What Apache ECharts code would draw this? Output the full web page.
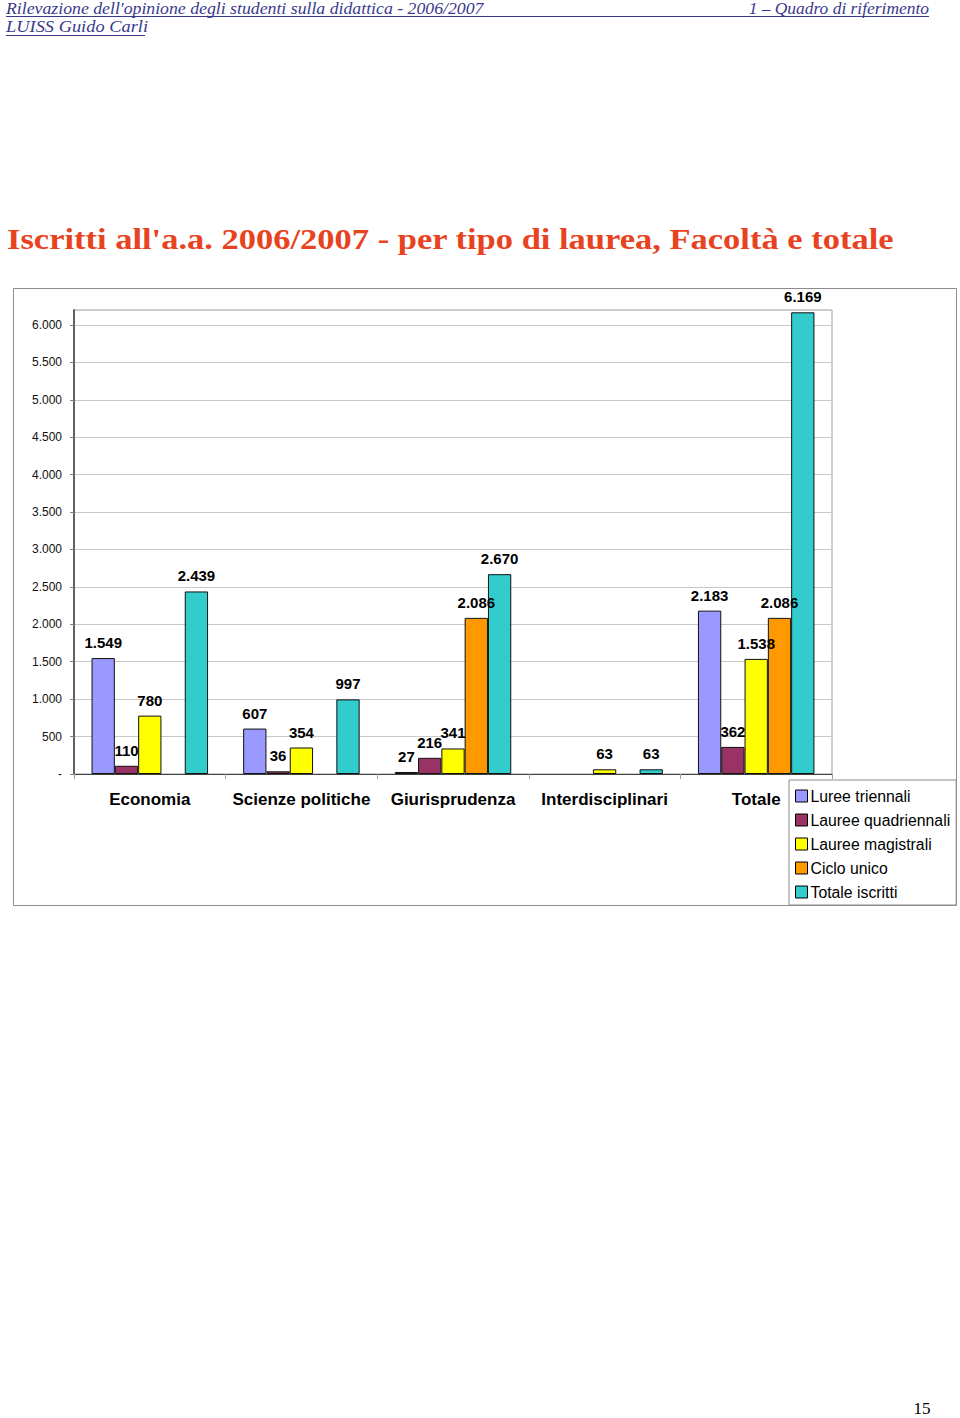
<!DOCTYPE html>
<html><head><meta charset="utf-8">
<script src="https://cdn.jsdelivr.net/npm/echarts@6/dist/echarts.min.js"></script>
<style>html,body{margin:0;padding:0;background:#fff}#c{width:960px;height:1418px}</style>
</head><body><div id="c"></div>
<script>
const categories = ['Economia', 'Scienze politiche', 'Giurisprudenza', 'Interdisciplinari', 'Totale'];
const seriesNames = ['Luree triennali', 'Lauree quadriennali', 'Lauree magistrali', 'Ciclo unico', 'Totale iscritti'];
const lureeTriennali = [1549, 607, 27, null, 2183];
const laureeQuadriennali = [110, 36, 216, null, 362];
const laureeMagistrali = [780, 354, 341, 63, 1538];
const cicloUnico = [null, null, 2086, null, 2086];
const totaleIscritti = [2439, 997, 2670, 63, 6169];
const seriesColors = ['#9999ff', '#993366', '#ffff00', '#ff9900', '#33cccc'];
const yMin = 0, yMax = 6200, yStep = 500;

const headerLeft = "Rilevazione dell'opinione degli studenti sulla didattica - 2006/2007";
const headerRight = '1 \u2013 Quadro di riferimento';
const headerSub = 'LUISS Guido Carli';
const titleText = "Iscritti all'a.a. 2006/2007 - per tipo di laurea, Facolt\u00e0 e totale";
const pageNo = '15';

const fmt = v => (v === 0 ? '-' : String(v).replace(/\B(?=(\d{3})+(?!\d))/g, '.'));
const SANS = '"Liberation Sans", Arial, sans-serif';
const SERIF = '"Liberation Serif", "Times New Roman", serif';
const HEAD = '#3a3a8c';

const allData = [lureeTriennali, laureeQuadriennali, laureeMagistrali, cicloUnico, totaleIscritti];

const chart = echarts.init(document.getElementById('c'), null, { renderer: 'svg' });
chart.setOption({
  backgroundColor: '#fff',
  animation: false,
  graphic: [
    { type: 'rect', z: 0, silent: true, shape: { x: 13.5, y: 288.5, width: 943, height: 617 }, style: { fill: 'none', stroke: '#8c8c8c', lineWidth: 1 } },
    { type: 'text', x: 6, y: 9, scaleX: 1.11, style: { x: 0, y: 0, text: headerLeft, fill: HEAD, font: 'italic 16px ' + SERIF, verticalAlign: 'middle' } },
    { type: 'text', x: 929, y: 9, scaleX: 1.09, style: { x: 0, y: 0, text: headerRight, fill: HEAD, font: 'italic 16px ' + SERIF, align: 'right', verticalAlign: 'middle' } },
    { type: 'line', shape: { x1: 6, y1: 16.5, x2: 929, y2: 16.5 }, style: { stroke: HEAD, lineWidth: 1 } },
    { type: 'text', x: 6, y: 27, scaleX: 1.15, style: { x: 0, y: 0, text: headerSub, fill: HEAD, font: 'italic 16px ' + SERIF, verticalAlign: 'middle' } },
    { type: 'line', shape: { x1: 6, y1: 35.5, x2: 145, y2: 35.5 }, style: { stroke: HEAD, lineWidth: 1 } },
    { type: 'text', x: 7, y: 239, scaleX: 1.15, style: { x: 0, y: 0, text: titleText, fill: '#e8431f', font: 'bold 30px ' + SERIF, verticalAlign: 'middle' } },
    { type: 'text', style: { x: 922, y: 1408, text: pageNo, fill: '#000', font: '17px ' + SERIF, align: 'center', verticalAlign: 'middle' } }
  ],
  grid: { left: 74, top: 310, width: 758, height: 464, show: true, borderColor: '#a0a0a0', borderWidth: 1, backgroundColor: 'transparent' },
  legend: {
    orient: 'vertical', left: 789, top: 780,
    data: seriesNames,
    icon: 'rect', itemWidth: 12, itemHeight: 12, itemGap: 8,
    padding: [8, 6, 5, 6],
    borderColor: '#8c8c8c', borderWidth: 1, backgroundColor: '#fff',
    itemStyle: { borderColor: '#000', borderWidth: 1 },
    textStyle: { fontFamily: SANS, fontSize: 15.8, color: '#000', lineHeight: 16, padding: [0, 0, 0, -2] }
  },
  xAxis: {
    type: 'category', data: categories,
    axisLine: { lineStyle: { color: '#404040', width: 1 } },
    axisTick: { show: true, length: 5, lineStyle: { color: '#a0a0a0' } },
    axisLabel: { interval: 0, fontFamily: SANS, fontSize: 17, fontWeight: 'bold', color: '#000', margin: 17 },
    splitLine: { show: false }
  },
  yAxis: {
    type: 'value', min: yMin, max: yMax, interval: yStep,
    axisLine: { show: true, lineStyle: { color: '#606060', width: 2 } },
    axisTick: { show: true, length: 4, lineStyle: { color: '#808080' } },
    axisLabel: { fontFamily: SANS, fontSize: 12, color: '#111', margin: 12, showMaxLabel: false, formatter: fmt },
    splitLine: { show: true, lineStyle: { color: '#c8c8c8', width: 1 } }
  },
  series: seriesNames.map((name, i) => ({
    name, type: 'bar', data: allData[i],
    barWidth: 23.3, barGap: '0%',
    itemStyle: { color: seriesColors[i], borderColor: '#111', borderWidth: 1 },
    label: { show: true, position: 'top', distance: 8, fontFamily: SANS, fontSize: 15, fontWeight: 'bold', color: '#000',
      formatter: p => (p.value == null ? '' : fmt(p.value)) }
  }))
});
</script>
</body></html>
